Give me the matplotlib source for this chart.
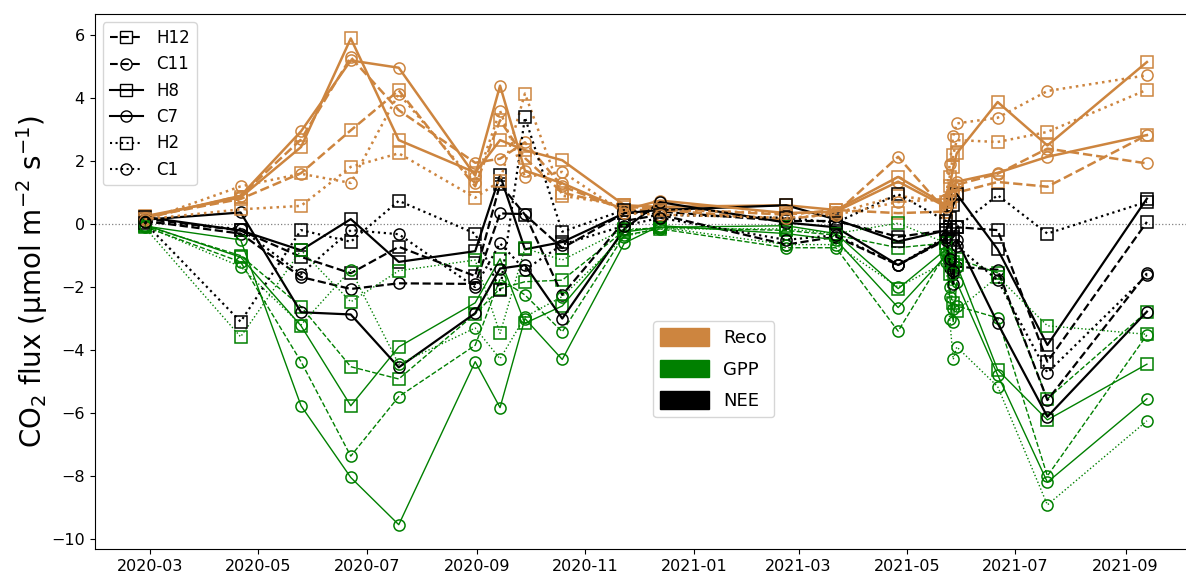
import matplotlib
matplotlib.use("Agg")
import matplotlib.pyplot as plt
import matplotlib.dates as mdates
import matplotlib.patches as mpatches
from matplotlib.lines import Line2D
import pandas as pd

dates = ['2020-02-27', '2020-04-21', '2020-05-25', '2020-06-22', '2020-07-19',
         '2020-08-31', '2020-09-14', '2020-09-28', '2020-10-19', '2020-11-23',
         '2020-12-13', '2021-02-22', '2021-03-22', '2021-04-26', '2021-05-23',
         '2021-05-25', '2021-05-27', '2021-05-29', '2021-06-21', '2021-07-19',
         '2021-09-13']

reco_H12 = [0.22, 0.8, 1.62, 2.98, 4.25, 1.2, 3.3, 2.1, 1.0, 0.55, 0.5, 0.3, 0.45, 0.35, 0.4, 0.7, 0.9, 1.0, 1.34, 1.19, 2.83]
gpp_H12 = [-0.05, -1.0, -2.62, -4.53, -4.92, -2.85, -2.05, -1.83, -1.78, -0.2, -0.1, -0.2, -0.35, -0.75, -0.6, -1.2, -1.3, -1.1, -1.55, -5.55, -2.78]
nee_H12 = [0.17, -0.2, -1.04, -1.56, -0.72, -1.65, 1.27, 0.3, -0.76, 0.35, 0.4, 0.1, 0.1, -0.4, -0.2, -0.5, -0.4, -0.1, -0.19, -4.37, 0.07]

reco_C11 = [0.18, 0.9, 2.69, 5.3, 3.62, 1.95, 2.08, 2.6, 1.2, 0.45, 0.45, 0.15, 0.35, 2.14, 0.4, 0.8, 1.1, 1.25, 1.6, 2.4, 1.93]
gpp_C11 = [-0.08, -1.2, -4.37, -7.37, -5.48, -3.85, -1.74, -2.25, -3.42, -0.35, -0.15, -0.75, -0.75, -3.4, -0.9, -2.0, -2.7, -2.6, -2.98, -8.0, -3.52]
nee_C11 = [0.1, -0.3, -1.68, -2.06, -1.88, -1.9, 0.34, 0.32, -2.25, 0.1, 0.3, -0.65, -0.4, -1.3, -0.5, -1.2, -1.6, -1.35, -1.45, -5.59, -1.56]

reco_H8 = [0.25, 0.85, 2.45, 5.9, 2.67, 1.64, 2.67, 2.35, 2.03, 0.6, 0.55, 0.6, 0.45, 1.5, 0.6, 1.2, 1.8, 2.25, 3.88, 2.5, 5.15]
gpp_H8 = [-0.02, -1.05, -3.23, -5.77, -3.9, -2.5, -1.1, -3.15, -2.6, -0.25, -0.1, -0.05, -0.3, -2.05, -0.8, -1.0, -1.2, -1.3, -4.63, -6.22, -4.45]
nee_H8 = [0.23, -0.2, -0.83, 0.16, -1.2, -0.86, 1.55, -0.8, -0.57, 0.35, 0.45, 0.6, 0.15, -0.55, -0.2, 0.2, 0.6, 0.95, -0.8, -3.84, 0.81]

reco_C7 = [0.2, 0.9, 2.95, 5.2, 4.97, 1.54, 4.4, 1.7, 1.3, 0.45, 0.75, 0.35, 0.4, 1.35, 0.55, 0.9, 1.2, 1.35, 1.63, 2.14, 2.83]
gpp_C7 = [-0.06, -0.5, -5.77, -8.05, -9.55, -4.37, -5.83, -3.0, -4.3, -0.6, -0.05, -0.3, -0.5, -2.65, -1.0, -2.3, -3.1, -1.85, -4.79, -8.2, -5.55]
nee_C7 = [0.14, 0.37, -2.8, -2.87, -4.55, -2.83, -1.41, -1.3, -3.0, -0.15, 0.7, 0.05, -0.1, -1.3, -0.45, -1.4, -1.9, -0.5, -3.15, -6.12, -2.78]

reco_H2 = [0.15, 0.47, 0.58, 1.82, 2.25, 0.84, 1.37, 4.15, 0.9, 0.6, 0.45, 0.35, 0.35, 0.9, 0.7, 1.5, 2.2, 2.67, 2.61, 2.93, 4.27]
gpp_H2 = [-0.1, -3.58, -0.83, -2.47, -1.48, -1.14, -3.47, -0.77, -1.14, -0.15, -0.15, -0.15, -0.3, 0.03, -0.6, -1.6, -2.5, -2.75, -1.67, -3.23, -3.5]
nee_H2 = [0.05, -3.1, -0.19, -0.56, 0.74, -0.3, -2.1, 3.39, -0.24, 0.45, 0.3, 0.2, 0.05, 0.95, 0.1, -0.1, -0.3, -0.1, 0.92, -0.3, 0.71]

reco_C1 = [0.12, 1.2, 1.6, 1.31, 4.15, 1.3, 3.6, 1.5, 1.66, 0.35, 0.3, 0.2, 0.3, 0.7, 0.8, 1.9, 2.8, 3.2, 3.38, 4.23, 4.73]
gpp_C1 = [-0.05, -1.35, -3.2, -1.45, -4.45, -3.3, -4.28, -2.95, -2.3, -0.4, -0.1, -0.65, -0.65, -2.0, -1.2, -3.0, -4.3, -3.9, -5.16, -8.92, -6.25]
nee_C1 = [0.07, -0.15, -1.58, -0.19, -0.32, -2.0, -0.61, -1.45, -0.65, -0.05, 0.2, -0.5, -0.35, -1.3, -0.4, -1.1, -1.5, -0.7, -1.78, -4.72, -1.62]

plots = ['H12', 'C11', 'H8', 'C7', 'H2', 'C1']
flux_names = ['Reco', 'GPP', 'NEE']
flux_colors = ['peru', 'green', 'black']
flux_lw = [1.8, 1.0, 1.6]
styles = {'H12': ('--', 's'), 'C11': ('--', 'o'), 'H8': ('-', 's'),
          'C7': ('-', 'o'), 'H2': (':', 's'), 'C1': (':', 'o')}
series = {
    'H12': (reco_H12, gpp_H12, nee_H12),
    'C11': (reco_C11, gpp_C11, nee_C11),
    'H8': (reco_H8, gpp_H8, nee_H8),
    'C7': (reco_C7, gpp_C7, nee_C7),
    'H2': (reco_H2, gpp_H2, nee_H2),
    'C1': (reco_C1, gpp_C1, nee_C1),
}

t = pd.to_datetime(dates)

fig = plt.figure(figsize=(11.86, 5.77), dpi=100)
# right edge of the axes sits just outside the figure, as in the reference
ax = fig.add_axes([0.0797, 0.0485, 0.9296, 0.927])
ax.spines['right'].set_visible(False)

for p in plots:
    ls, mk = styles[p]
    for vals, col, lw in zip(series[p], flux_colors, flux_lw):
        ax.plot(t, vals, linestyle=ls, marker=mk, color=col, lw=lw,
                mfc='none', mec=col, ms=8, mew=1.1)

ax.axhline(0, color='gray', ls=':', lw=0.9, zorder=0)

ax.xaxis.set_major_locator(mdates.MonthLocator(bymonth=[1, 3, 5, 7, 9, 11]))
ax.xaxis.set_major_formatter(mdates.DateFormatter('%Y-%m'))
ax.tick_params(labelsize=11.5)
ax.set_ylabel('CO$_2$ flux (μmol m$^{-2}$ s$^{-1}$)', fontsize=20, labelpad=1)

h1 = [Line2D([], [], color='black', linestyle=styles[p][0], marker=styles[p][1],
             mfc='none', ms=8, lw=1.5) for p in plots]
leg1 = ax.legend(h1, plots, loc='upper left', fontsize=12)
ax.add_artist(leg1)

h2 = [mpatches.Patch(color=c) for c in flux_colors]
ax.legend(h2, flux_names, loc='upper left', bbox_to_anchor=(0.5066, 0.426),
          borderaxespad=0, fontsize=13, handlelength=2.7, handleheight=1.1,
          labelspacing=0.7)

fig.savefig('out.png', dpi=100)
